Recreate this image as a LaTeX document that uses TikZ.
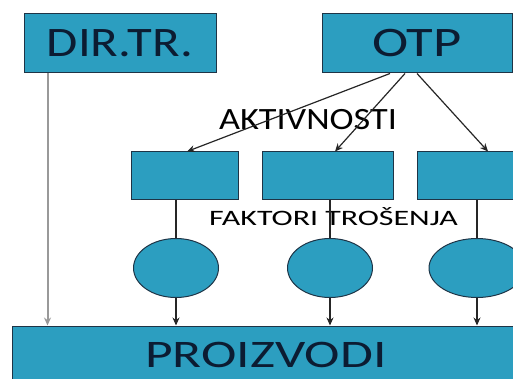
\documentclass[tikz,border=0pt]{standalone}
\usepackage{fontspec}
\setmainfont{Carlito}
\usepackage{tikz}
\usetikzlibrary{positioning,calc,shapes.geometric,arrows.meta}
\tikzset{>={Stealth[length=8pt,width=7pt]}}
\definecolor{boxfill}{RGB}{44,158,192}
\definecolor{boxline}{RGB}{30,52,70}
\definecolor{boxtext}{RGB}{12,28,50}
\tikzset{
  box/.style={draw=boxline,fill=boxfill,line width=1pt,inner sep=0pt,
    text=boxtext},
  drv/.style={draw=boxline,fill=boxfill,line width=1pt,ellipse,inner sep=0pt,
    minimum width=85pt,minimum height=59pt},
  con/.style={line width=1.2pt,draw=black!85}
}

\begin{document}
\begin{tikzpicture}[x=1pt,y=-1pt]
\useasboundingbox (0,0) rectangle (513,379);
\clip (0,0) rectangle (513,379);
\node[box,minimum width=192pt,minimum height=59pt] (dirtr) at (120,43.5)
  {\fontsize{42}{42}\selectfont\scalebox{1.21}[1]{DIR.TR.}};
\node[box,minimum width=190pt,minimum height=59pt] (otp) at (417,43.5)
  {\fontsize{42}{42}\selectfont\scalebox{1.3}[1]{OTP}};
\node[box,minimum width=107pt,minimum height=48pt] (a1) at (184.5,176) {};
\node[box,minimum width=131pt,minimum height=48pt] (a2) at (327.5,176) {};
\node[box,minimum width=120pt,minimum height=48pt] (a3) at (477,176) {};
\node[drv] (e1) at (176,268) {};
\node[drv] (e2) at (330,268) {};
\node[drv,minimum width=96pt] (e3) at (477,268) {};
\node[box,minimum width=508pt,minimum height=64pt] (prod) at (266,358)
  {\raisebox{6pt}{\fontsize{39}{39}\selectfont\scalebox{1.37}[1]{PROIZVODI}}};
\node (akt) at (308,120) {\fontsize{31}{31}\selectfont\scalebox{1.17}[1]{AKTIVNOSTI}};
\node (fakt) at (333.5,216.5) {\fontsize{22}{22}\selectfont\scalebox{1.45}[1]{FAKTORI TROŠENJA}};
% aktivnosti
\draw[con,->] ([xshift=-27pt]otp.south) -- ([xshift=2.5pt]a1.north);
\draw[con,->] ([xshift=-12pt]otp.south) -- ([xshift=7.5pt]a2.north);
\draw[con,->] (otp.south) -- ([xshift=11pt]a3.north);
% faktori trosenja
\foreach \i in {1,2,3} {
  \draw[con] (a\i.south -| e\i) -- (e\i.north);
  \draw[con,->] (e\i.south) -- (e\i.south |- prod.north);
}
\draw[line width=2pt,draw=gray!80,->] ([xshift=24pt]dirtr.south west) -- ([xshift=24pt]dirtr.south west |- prod.north);
\end{tikzpicture}
\end{document}
